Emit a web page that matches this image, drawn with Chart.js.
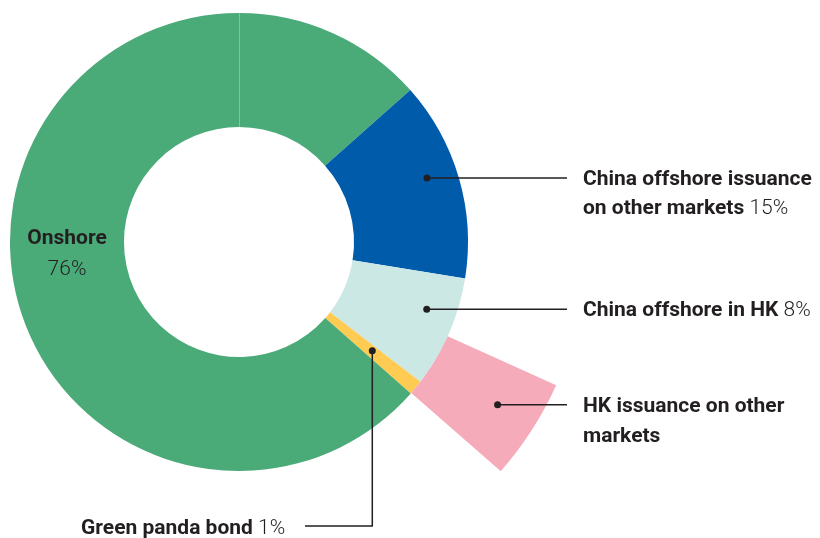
<!DOCTYPE html>
<html>
<head>
<meta charset="utf-8">
<script src="https://cdn.jsdelivr.net/npm/chart.js@4/dist/chart.umd.min.js"></script>
<style>
  html, body { margin: 0; padding: 0; background: #fff; }
  body { width: 820px; height: 538px; overflow: hidden; position: relative; font-family: Roboto, Lato, "Open Sans", sans-serif; color: #231f20; }
  #wrap { position: absolute; left: -342px; top: -54px; width: 1162px; height: 592px; }
  .lbl { position: absolute; font-size: 21px; line-height: 29px; white-space: nowrap; }
  .lbl b { font-weight: 700; }
  .lbl span { font-weight: 300; }
</style>
</head>
<body>
<div id="wrap"><canvas id="c" width="1162" height="592"></canvas></div>

<div class="lbl" style="left:583px; top:164px;"><b>China offshore issuance</b><br><b>on other markets</b> <span>15%</span></div>
<div class="lbl" style="left:583px; top:295px;"><b>China offshore in HK</b> <span>8%</span></div>
<div class="lbl" style="left:583px; top:390px; line-height:30px;"><b>HK issuance on other</b><br><b>markets</b></div>
<div class="lbl" style="left:81px; top:513px;"><b>Green panda bond</b> <span>1%</span></div>
<div class="lbl" style="left:17px; width:100px; text-align:center; top:222px; line-height:31px;"><b>Onshore</b><br><span>76%</span></div>

<script>
// Main ring (clockwise from 12 o'clock); Onshore wraps past the top, so it is split in two pieces
const ringLabels = ['Onshore', 'China offshore issuance on other markets', 'China offshore in HK', 'Green panda bond', 'Onshore'];
const ringValues = [13.45, 14.1, 7.9, 1.05, 63.5];
const ringColors = ['#4aaa78', '#005bab', '#cbe8e5', '#ffcb52', '#4aaa78'];

// Outer ring: only the HK issuance slice is visible
const outerLabels = ['', 'HK issuance on other markets', ''];
const outerValues = [31.75, 4.7, 63.55];
const outerColors = ['rgba(0,0,0,0)', '#f5abba', 'rgba(0,0,0,0)'];

// Leader lines: dot (angle clockwise from top in degrees, radius px), then path relative to centre
const leaders = [
  { angle: 71.2, r: 198.6, path: [[328, null]] },
  { angle: 109.7, r: 199.4, path: [[328, null]] },
  { angle: 122.2, r: 305.6, path: [[328, null]] },
  { angle: 129.2, r: 172.0, path: [[null, 284], [66, 284]] }
];

const leaderPlugin = {
  id: 'leaders',
  afterDraw(chart) {
    const arc = chart.getDatasetMeta(1).data[0];
    const cx = arc.x, cy = arc.y;
    const ctx = chart.ctx;
    ctx.save();
    // faint seam where the Onshore slice wraps past 12 o'clock
    ctx.strokeStyle = 'rgba(255,255,255,0.3)';
    ctx.lineWidth = 1;
    ctx.beginPath();
    ctx.moveTo(cx + 0.5, cy - arc.outerRadius);
    ctx.lineTo(cx + 0.5, cy - arc.innerRadius);
    ctx.stroke();

    ctx.strokeStyle = '#231f20';
    ctx.fillStyle = '#231f20';
    ctx.lineWidth = 1.5;
    leaders.forEach(l => {
      const a = l.angle * Math.PI / 180;
      let x = cx + l.r * Math.sin(a);
      let y = cy - l.r * Math.cos(a);
      ctx.beginPath();
      ctx.moveTo(x, y);
      l.path.forEach(p => {
        if (p[0] !== null) x = cx + p[0];
        if (p[1] !== null) y = cy + p[1];
        ctx.lineTo(x, y);
      });
      ctx.stroke();
      ctx.beginPath();
      ctx.arc(cx + l.r * Math.sin(a), cy - l.r * Math.cos(a), 3.5, 0, Math.PI * 2);
      ctx.fill();
    });
    ctx.restore();
  }
};

new Chart(document.getElementById('c'), {
  type: 'doughnut',
  data: {
    labels: ringLabels,
    datasets: [
      { data: outerValues, backgroundColor: outerColors, weight: 119, borderWidth: 0 },
      { data: ringValues, backgroundColor: ringColors, weight: 114, borderWidth: 0 }
    ]
  },
  options: {
    responsive: false,
    animation: false,
    events: [],
    radius: 348,
    cutout: '33.05%',
    rotation: 0,
    layout: { padding: 0 },
    elements: { arc: { borderWidth: 0, hoverOffset: 0, offset: 0 } },
    plugins: { legend: { display: false }, tooltip: { enabled: false } }
  },
  plugins: [leaderPlugin]
});
</script>
</body>
</html>
